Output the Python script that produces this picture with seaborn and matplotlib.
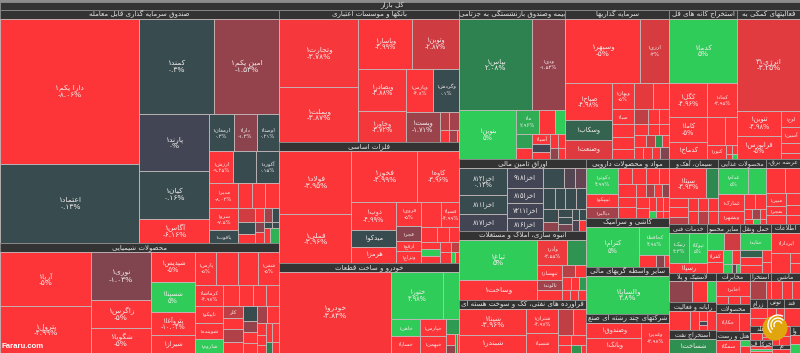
"""Tehran bourse market treemap: sectors tiled into strips, cell area = market cap,
cell colour = daily change (%). Layout comes from the caps and the strip runs."""
import re
from itertools import zip_longest

import numpy as np
import matplotlib
matplotlib.use("Agg")
import matplotlib.pyplot as plt
from matplotlib.patches import Rectangle, Circle, Arc
import seaborn as sns

sns.set_theme(style="white")
plt.rcParams["font.family"] = ["DejaVu Sans"]

TITLE = "کل بازار"
WATERMARK = "Fararu.com"

# runs: c<n> = next n items stacked in a column on the left, r<n> = n items in a row on top
ETF_NAMES = ["دارا یکم۱", "اعتماد۱", "کمند۱", "امین یکم۱", "پارند۱", "کیان۱", "آگاس۱", "ارمغان۱", "دارا۱", "اوصتا۱", "ارزش۱", "", "آکورد۱", "مدیر۱", "سرو۱", "یاقوت۱"]
ETF_CAPS = [20155, 10981, 7104, 6240, 3920, 3360, 1680, 888, 851, 814, 768, 736, 736, 696, 638, 377, 336, 336, 336, 238, 204, 153, 126, 112, 98, 90, 99, 48, 42, 90, 135]
ETF_CHG = [-8.06, 0.13, 0.3, -1.53, 0, 0.16, -6.16, 0.3, -1.3, 0.21, -9.25, 0.1, 0.15, -8.02, -7.5, 0.1, -5, -5, -5, -2.9, 0.1, -5, -5, -2, 0.1, -1.2, -5, 0.1, 0.1, -5, 3]
ETF_RUNS = "c2 r2 c3 r3 r3 c3 r3 c3 r3 c2 r2 c1 c1"

CHEM_NAMES = ["آریا۱", "پترول۱", "نوری۱", "زاگرس۱", "شگویا۱", "شپدیس۱", "شسپنا۱", "پتروآغا۱", "شیراز۱", "پارس۱", "", "", "شفن۱", "کرماشا۱", "تاپیکو۱", "شوینده۱", "شاروم۱", "", "", "", "", "کلر"]
CHEM_CAPS = [4860, 4140, 2880, 1620, 1500, 1290, 1290, 946, 774, 704, 704, 640, 704, 588, 476, 448, 392, 320, 280, 280, 260, 228, 228, 247, 209, 195, 156, 143, 130, 180, 195, 104, 88, 72, 120, 135, 64, 80]
CHEM_CHG = [-5, -4.99, -1.03, -5, -5, -5, 5, -10.02, -6, -5, -5, -5, -5, -4.98, -4.97, -5, 5, -5, -5, -5, -5, -2.6, -5, -2.3, -5, 0.1, -1.5, -5, -5, -2, -5, -5, -5, -5, -5, -5, 2, -5]
CHEM_RUNS = "c2 c3 c4 r4 c4 r4 c4 c4 r2 c3 r2 c1 r2"

BANK_NAMES = ["وتجارت۱", "وبملت۱", "وپاسار۱", "وتوبن۱", "وبصادر۱", "وخاور۱", "وپارس۱", "وگردش۱", "ویست۱"]
BANK_CAPS = [5372, 4266, 2646, 2303, 1974, 1457, 1176, 1092, 1020, 180, 180, 110, 90, 20]
BANK_CHG = [-3.78, -3.87, -4.99, -2.87, -3.88, -3.72, -4.8, 0.1, -1.71, -2.2, -2, -5, -2, -5]
BANK_RUNS = "c2 r2 c2 r2 c1 r2 c1 r2"

METAL_NAMES = ["فولاد۱", "فملی۱", "فخوز۱", "کاوه۱", "ذوب۱", "میدکو۱", "هرمز۱", "فروی۱", "فجر۱", "ارفع۱", "ونزاع۱", "", "فسپا۱"]
METAL_CAPS = [4536, 3528, 3366, 2142, 1232, 748, 704, 600, 375, 250, 300, 480, 456, 225, 180, 150, 126, 144, 126, 110, 90, 110, 50, 40]
METAL_CHG = [-3.95, -3.96, -4.99, -3.96, -4.99, 0.1, -5, -5, -1.2, -5, -5, -5, -4.99, -5, -5, -5, -5, 5, -5, -5, -2.6, -5, 5, -5]
METAL_RUNS = "c2 r2 c3 c4 r2 r3 c3 r2 c1 r2"

AUTO_NAMES = ["خودرو۱", "ختور۱", "", "خاهن۱", "خساپا۱", "خپارس۱", "خبهمن۱"]
AUTO_CAPS = [8991, 2491, 752, 493, 493, 425, 425, 195, 100, 70, 40, 40]
AUTO_CHG = [-3.84, 3.98, 4, 4.9, -5, -5, -5, 2.5, -5, -1.5, 2.5, -5]
AUTO_RUNS = "c1 r2 c2 c2 r1 c2 r2"

INS_NAMES = ["بپاس۱", "ودی۱", "بنوین۱", "ما۱", "", "", "", "", "آسیا۱"]
INS_CAPS = [6643, 3003, 2793, 552, 384, 240, 224, 176, 180, 144, 126, 112, 98, 90, 75]
INS_CHG = [2.08, -1.53, 5, 2.96, -5, 5, 2.6, -5, -5, 0, -5, -5, -5, -1.5, -5]
INS_RUNS = "r2 c1 r3 c2 c3 r2 r2"

INV_NAMES = ["وسپهر۱", "ارزی۱", "صباح۱", "وسکاب۱", "وصنعت۱", "وبهان۱", "صبا۱"]
INV_CAPS = [4800, 1856, 1739, 940, 893, 572, 330, 286, 264, 220, 494, 416, 210, 165, 150, 154, 121, 110, 144, 108, 84, 84, 108, 108, 108, 108]
INV_CHG = [-5, -3, -4.98, 1.1, -3.19, -5, -5, -5, -5, -5, -3.3, -5, -2.6, -5, -5, -5, -5, -5, -5, -2.7, 2.4, -5, -5, -5, -5, -1]
INV_RUNS = "r2 c3 c5 r2 r3 r3 r4 r4"

ORE_NAMES = ["کدما۱", "کگل۱", "کاما۱", "کدماخ۱", "کچاد۱", "", "", "کنور۱"]
ORE_CAPS = [4352, 1292, 950, 646, 1020, 504, 336, 266, 45, 45, 30, 30]
ORE_CHG = [5, -4.96, -5, -10, -3.95, -5, -5, -5, -5, -5, -5, 4]
ORE_RUNS = "r1 c3 r1 r2 c1 r2 r2"

SUP_NAMES = ["انرژی۳۱", "تنوین۱", "فرابورس۱", "اوج۱", "آسین۱"]
SUP_CAPS = [5704, 1075, 989, 304, 304, 190, 114]
SUP_CHG = [-3.25, -4.98, -5, -5, -5, -5, -5]
SUP_RUNS = "r1 c2 c4"

BOND_NAMES = ["اخزا۸۱۲", "اخزا۸۱۱", "اخزا۸۱۷", "اخزا۹۱۸", "اخزا۸۱۵", "اخزا۷۲۱۱", "اخزا۸۱۶"]
BOND_CAPS = [1296, 912, 816, 700, 525, 525, 455, 420, 230, 230, 240, 220, 220, 200, 195, 135, 120, 105, 105, 77, 77, 77, 77]
BOND_CHG = [0.14, 0.11, 0, 0, 0, 0, 0, 0.2, -0.2, -0.4, 0.2, 0.5, 0.2, 0.2, 0.2, -1.4, 0.2, 0.2, -0.6, 0.2, 0.2, -0.1, -5]
BOND_RUNS = "c3 c4 r3 r4 c2 c3 r2 r2"

BUILD_NAMES = ["ثباغ۱", "وساخت۱", "وآذر۱", "", "ثبهساز۱", "ثالوند۱"]
BUILD_CAPS = [3080, 1540, 775, 475, 375, 250, 250, 143, 132, 117, 104, 104, 80, 80, 80]
BUILD_CHG = [5, -4.97, -3.55, 2.4, -5, -2, -5, -2.5, -5, -5, -5, 2.5, -5, -5, -5]
BUILD_RUNS = "c2 r2 c3 r2 r3 r3"

PETRO_NAMES = ["شپنا۱", "شبندر۱", "شتران۱", "شسپا۱"]
PETRO_CAPS = [1742, 1206, 768, 640, 390, 338, 130, 104, 150, 80, 40]
PETRO_CHG = [-3.96, -5, -4.97, -4.99, -2.6, -5, -5, -5, -5, 2.4, -5]
PETRO_RUNS = "c2 c2 r2 c2 r1 r2"

PHARMA_NAMES = ["دکوثر۱", "تیپیکو۱", "دبالبر۱"]
PHARMA_CAPS = [780, 390, 330, 208, 208, 192, 156, 208, 160, 176, 121, 99, 88, 88, 144, 120, 88, 88, 88, 48, 48, 48]
PHARMA_CHG = [4.99, -5, -2, -5, -5, -5, -5, -5, -5, -5, -5, -2.2, -5, -1.5, -5, -5, -5, -5, -5, 4, -5, -5]
PHARMA_RUNS = "c3 r4 c3 r4 c2 r3 r3"

CERAMIC_NAMES = ["کترام۱", "کحافظ۱"]
CERAMIC_CAPS = [2173, 870, 204, 96, 60]
CERAMIC_CHG = [5, 4.98, -5, -1.3, -5]
CERAMIC_RUNS = "c1 r1 r3"

BROKER_NAMES = ["والساپا۱"]
BROKER_CAPS = [3100]
BROKER_CHG = [4.8]
BROKER_RUNS = "c1"

MULTI_NAMES = ["وصندوق۱", "وبانک۱", "وغدیر۱"]
MULTI_CAPS = [880, 825, 868]
MULTI_CHG = [-5, -5, -3.98]
MULTI_RUNS = "c2 c1"

CEMENT_NAMES = ["سیتا۱"]
CEMENT_CAPS = [1110, 360, 162, 180, 126, 130, 130, 130, 130, 130, 130]
CEMENT_CHG = [-3.93, 2.2, -5, -5, -2.4, -5, -5, -5, -5, -2.5, -5]
CEMENT_RUNS = "r2 c3 r3 r3"

FOOD_NAMES = ["غدام۱", "", "غمارک۱", "وبشهر۱"]
FOOD_CAPS = [750, 450, 391, 322, 156, 144, 81, 72, 63, 50, 40, 30]
FOOD_CHG = [5, 5, -5, -5, -5, -5, -5, -2, -5, -5, 4, -5]
FOOD_RUNS = "r2 c2 r2 r3 r3"

POWER_NAMES = ["", "", "مبین۱", "بفجر۱"]
POWER_CAPS = [475, 375, 240, 180, 180, 168, 140, 126]
POWER_CHG = [-5, -5, -5, -5, -5, -5, -5, -5]
POWER_RUNS = "r2 c3 c3"

TECH_NAMES = ["رنیک۱", "تپوکا۱", "رسپا۱"]
TECH_CAPS = [589, 527, 360]
TECH_CHG = [3.3, 5, -5]
TECH_RUNS = "r2 c1"

OTHER_NAMES = ["", "", "کفرا۱"]
OTHER_CAPS = [306, 288, 192, 176, 126, 112, 81, 36, 36]
OTHER_CHG = [5, -2.9, -5, -5, 5, -5, 4, -0.3, 4]
OTHER_RUNS = "r2 c2 r2 r3"

TRANS_NAMES = ["حتاید۱"]
TRANS_CAPS = [510, 147, 168, 168, 108, 99]
TRANS_CHG = [5, 1, -5, -5, -5, -5]
TRANS_RUNS = "r1 c3 c2"

INFO_NAMES = ["ایردارا۱"]
INFO_CAPS = [609, 380, 100, 100]
INFO_CHG = [-5, -5, -5, -5]
INFO_RUNS = "r1 c1 c2"

RUBBER_CAPS = [462, 294, 189]
RUBBER_CHG = [-1.4, -5, 5]
IT_CAPS = [380, 171, 80, 32, 40, 171]
IT_CHG = [-5, -5, -5, 0, -5, -5]
IT_RUNS = "c1 c1 c3 c1"
OILX_NAMES = ["شساخت۱"]
OILX_CAPS = [705]
OILX_CHG = [2.3]
TEL_NAMES = ["اخابر۱"]
TEL_CAPS = [510, 96, 96, 80]
TEL_CHG = [-5, -5, -5, -5]
TEL_RUNS = "r1 r3"
PROD_NAMES = ["چکاپا۱"]
PROD_CAPS = [437, 209]
PROD_CHG = [-3.87, -5]
HOTEL_NAMES = ["سمگا۱"]
HOTEL_CAPS = [336, 70, 70]
HOTEL_CHG = [-5, 4, -5]
HOTEL_RUNS = "c1 c2"
MINE_CAPS = [272, 85]
MINE_CHG = [-2.2, -5]
MACH_CAPS = [200, 170, 150]
MACH_CHG = [-5, -5, -5]
FARM_CAPS = [180, 126]
FARM_CHG = [-5, -5]
TOTI_CAPS = [160, 146]
TOTI_CHG = [-5, -5]
QAND_CAPS = [288]
QAND_CHG = [-5]
MISC_CAPS = [180, 90, 60]
MISC_CHG = [-5, -5, -5]
KHAR_CAPS = [60, 60, 60]
KHAR_CHG = [-5, 4, -5]
HID_CAPS = [130, 100, 90]
HID_CHG = [-5, -5, -5]
MIM_CAPS = [60]
MIM_CHG = [-5]
VA_CAPS = [100, 90]
VA_CHG = [-5, 4]

SECTOR_NAMES = [
    "صندوق سرمایه گذاری قابل معامله", "محصولات شیمیایی", "بانکها و موسسات اعتباری", "فلزات اساسی",
    "خودرو و ساخت قطعات", "بیمه وصندوق بازنشستگی به جزتامی", "سرمایه گذاریها", "استخراج کانه های فل",
    "فعالیتهای کمکی به", "اوراق تامین مالی", "انبوه سازی، املاک و مستغلات",
    "فراورده های نفتی، کک و سوخت هسته ای", "مواد و محصولات دارویی", "کاشی و سرامیک",
    "سایر واسطه گریهای مالی", "شرکتهای چند رشته ای صنع", "سیمان، آهک و", "محصولات غذایی", "عرضه برق،",
    "خدمات فنی", "سایر محصو", "حمل ونقل", "اطلاعات", "لاستیک و پلا", "رایانه و فعالیت", "استخراج نفت",
    "مخابرات", "محصولات", "هتل و رست", "استخرا", "ماشین", "زراع", "توتی", "قند", "هلد", "خرکا ف", "", "م", "وا",
]
SECTOR_CAPS = [65007, 30690, 23760, 21780, 16200, 15794, 15496, 10132, 9387, 9144, 8763, 6731, 4897, 4067, 3901,
               3237, 3185, 3120, 2210, 1813, 1617, 1470, 1421, 1363, 1316, 1081, 1054, 918, 748, 546, 754, 459, 459,
               432, 308, 286, 342, 144, 270]
SECTOR_RUNS = "c2 c3 r4 c3 c4 r3 r4 c3 c3 r2 r3 c2 c2 c1"

# one row per sector, same order as SECTOR_NAMES
SECTOR_CELLS = [
    (ETF_NAMES, ETF_CAPS, ETF_CHG, ETF_RUNS), (CHEM_NAMES, CHEM_CAPS, CHEM_CHG, CHEM_RUNS),
    (BANK_NAMES, BANK_CAPS, BANK_CHG, BANK_RUNS), (METAL_NAMES, METAL_CAPS, METAL_CHG, METAL_RUNS),
    (AUTO_NAMES, AUTO_CAPS, AUTO_CHG, AUTO_RUNS), (INS_NAMES, INS_CAPS, INS_CHG, INS_RUNS),
    (INV_NAMES, INV_CAPS, INV_CHG, INV_RUNS), (ORE_NAMES, ORE_CAPS, ORE_CHG, ORE_RUNS),
    (SUP_NAMES, SUP_CAPS, SUP_CHG, SUP_RUNS), (BOND_NAMES, BOND_CAPS, BOND_CHG, BOND_RUNS),
    (BUILD_NAMES, BUILD_CAPS, BUILD_CHG, BUILD_RUNS), (PETRO_NAMES, PETRO_CAPS, PETRO_CHG, PETRO_RUNS),
    (PHARMA_NAMES, PHARMA_CAPS, PHARMA_CHG, PHARMA_RUNS), (CERAMIC_NAMES, CERAMIC_CAPS, CERAMIC_CHG, CERAMIC_RUNS),
    (BROKER_NAMES, BROKER_CAPS, BROKER_CHG, BROKER_RUNS), (MULTI_NAMES, MULTI_CAPS, MULTI_CHG, MULTI_RUNS),
    (CEMENT_NAMES, CEMENT_CAPS, CEMENT_CHG, CEMENT_RUNS), (FOOD_NAMES, FOOD_CAPS, FOOD_CHG, FOOD_RUNS),
    (POWER_NAMES, POWER_CAPS, POWER_CHG, POWER_RUNS), (TECH_NAMES, TECH_CAPS, TECH_CHG, TECH_RUNS),
    (OTHER_NAMES, OTHER_CAPS, OTHER_CHG, OTHER_RUNS), (TRANS_NAMES, TRANS_CAPS, TRANS_CHG, TRANS_RUNS),
    (INFO_NAMES, INFO_CAPS, INFO_CHG, INFO_RUNS), ([], RUBBER_CAPS, RUBBER_CHG, "c1 c1 c1"),
    ([], IT_CAPS, IT_CHG, IT_RUNS), (OILX_NAMES, OILX_CAPS, OILX_CHG, "c1"), (TEL_NAMES, TEL_CAPS, TEL_CHG, TEL_RUNS),
    (PROD_NAMES, PROD_CAPS, PROD_CHG, "c1 c1"), (HOTEL_NAMES, HOTEL_CAPS, HOTEL_CHG, HOTEL_RUNS),
    ([], MINE_CAPS, MINE_CHG, "c1 c1"), ([], MACH_CAPS, MACH_CHG, "c1 c1 c1"), ([], FARM_CAPS, FARM_CHG, "r1 r1"),
    ([], TOTI_CAPS, TOTI_CHG, "c1 c1"), ([], QAND_CAPS, QAND_CHG, "c1"), ([], MISC_CAPS, MISC_CHG, "c1 c2"),
    ([], KHAR_CAPS, KHAR_CHG, "c3"), ([], HID_CAPS, HID_CHG, "c1 c2"), ([], MIM_CAPS, MIM_CHG, "c1"),
    ([], VA_CAPS, VA_CHG, "r1 r1"),
]

# change -4 ... +4 in half steps, anything beyond is clipped
CHANGE_COLOURS = ["#fd3539", "#ec393d", "#d63b40", "#b94046", "#a3424a", "#93434c", "#80454f", "#6e4550", "#414554",
                  "#384a4f", "#35604f", "#317050", "#2e7d4f", "#2f9a52", "#2fb055", "#30c058", "#30cc5a"]
change_cmap = sns.blend_palette(CHANGE_COLOURS, n_colors=256, as_cmap=True)

FOUR_FORM = {"ب": 0xFE8F, "پ": 0xFB56, "ت": 0xFE95, "ث": 0xFE99, "ج": 0xFE9D, "چ": 0xFB7A, "ح": 0xFEA1, "خ": 0xFEA5,
             "س": 0xFEB1, "ش": 0xFEB5, "ص": 0xFEB9, "ض": 0xFEBD, "ط": 0xFEC1, "ظ": 0xFEC5, "ع": 0xFEC9, "غ": 0xFECD,
             "ف": 0xFED1, "ق": 0xFED5, "ک": 0xFB8E, "گ": 0xFB92, "ل": 0xFEDD, "م": 0xFEE1, "ن": 0xFEE5, "ه": 0xFEE9,
             "ی": 0xFBFC}
TWO_FORM = {"ا": 0xFE8D, "آ": 0xFE81, "د": 0xFEA9, "ذ": 0xFEAB, "ر": 0xFEAD, "ز": 0xFEAF, "ژ": 0xFB8A, "و": 0xFEED,
            "\uFEFB": 0xFEFB}


def rtl(text):
    # matplotlib does no Arabic shaping or bidi, so do both here
    text = text.replace("لا", "\uFEFB")
    out = []
    for i, ch in enumerate(text):
        prev = text[i - 1] if i else ""
        nxt = text[i + 1] if i + 1 < len(text) else ""
        joins_prev = prev in FOUR_FORM
        if ch in FOUR_FORM:
            joins_next = nxt in FOUR_FORM or nxt in TWO_FORM
            form = (1 if joins_prev else 0) if not joins_next else (3 if joins_prev else 2)
            out.append(chr(FOUR_FORM[ch] + form))
        elif ch in TWO_FORM:
            out.append(chr(TWO_FORM[ch] + (1 if joins_prev else 0)))
        else:
            out.append(ch)
    parts = re.findall(r"[۰-۹]+|[^۰-۹]", "".join(out))
    return "".join(reversed(parts))


def pct_text(chg):
    num = f"{abs(chg):.2f}".rstrip("0").rstrip(".")
    num = num.translate(str.maketrans("0123456789", "۰۱۲۳۴۵۶۷۸۹"))
    return ("-" if chg < 0 else "") + num + "%"


def tile(rect, caps, runs):
    x, y, w, h = rect
    caps = np.asarray(caps, dtype=float)
    out = []
    i = 0
    tokens = runs.split()
    for tok in tokens:
        group = caps[i:i + int(tok[1:])]
        if len(group) == 0:
            break
        share = group.sum() / caps[i:].sum()
        if tok[0] == "c":
            cw = w * share
            yy = y
            for v in group:
                ch = h * v / group.sum()
                out.append((x, yy, cw, ch))
                yy += ch
            x += cw
            w -= cw
        else:
            rh = h * share
            xx = x
            for v in group:
                rw = w * v / group.sum()
                out.append((xx, y, rw, rh))
                xx += rw
            y += rh
            h -= rh
        i += len(group)
    return out


def draw_cell(ax, box, name, chg):
    x, y, w, h = box
    # tiny gains already read as the teal tone in the source
    shade = 0.5 if 0 < chg < 0.5 else np.clip(chg, -4, 4)
    colour = change_cmap((shade + 4) / 8)
    ax.add_patch(Rectangle((x, y), w, h, facecolor=colour, edgecolor="#c4b9b9", linewidth=0.6))
    if not name:
        return
    size = 5.4 if w > 60 else (4.8 if w > 34 else 3.9)
    cx, cy = x + w / 2, y + h / 2
    if h >= 20.5:
        ax.text(cx, cy - 3.2, rtl(name), color="#f2eded", fontsize=size, ha="center", va="center")
        ax.text(cx, cy + 3.6, pct_text(chg), color="#f2eded", fontsize=size, ha="center", va="center")
    else:
        ax.text(cx, cy, rtl(name), color="#f2eded", fontsize=size, ha="center", va="center")


def main():
    fig = plt.figure(figsize=(8, 3.53), dpi=100, facecolor="#8c8c8c")
    ax = fig.add_axes([0, 0, 1, 1])
    ax.set_xlim(0, 800)
    ax.set_ylim(353, 0)
    ax.axis("off")

    # top bar
    ax.add_patch(Rectangle((0, 1.5), 800, 8, facecolor="#333333", edgecolor="#8c8c8c", linewidth=0.6))
    ax.text(392, 5.5, rtl(TITLE), color="#e6e6e6", fontsize=5, ha="center", va="center")

    boxes = tile((0, 10, 800, 343), SECTOR_CAPS, SECTOR_RUNS)
    for box, header, (names, caps, chg, runs) in zip(boxes, SECTOR_NAMES, SECTOR_CELLS):
        x, y, w, h = box
        head = min(8.7, h * 0.5) if header else 0
        if head:
            bar = Rectangle((x, y), w, head, facecolor="#333333", edgecolor="#8c8c8c", linewidth=0.6)
            ax.add_patch(bar)
            ax.text(x + w / 2, y + head / 2, rtl(header), color="#e6e6e6", fontsize=5 if w > 60 else 4.5,
                    ha="center", va="center", clip_path=bar, clip_on=True)
        cells = tile((x, y + head, w, h - head), caps, runs)
        for cell, name, value in zip_longest(cells, names, chg, fillvalue=""):
            if cell == "" or value == "":
                continue
            draw_cell(ax, cell, name, value)

    # watermark and logo
    ax.text(1, 347, WATERMARK, color="white", fontsize=5.6, fontweight="bold", family="Liberation Sans",
            ha="left", va="center")
    ax.add_patch(Circle((775, 328), 12.5, facecolor="#e1a60e", edgecolor="none", zorder=5))
    for r, t1, t2 in [(10, 130, 300), (7, 140, 320), (4, 150, 340)]:
        ax.add_patch(Arc((778, 325), 2 * r, 2 * r, theta1=t1, theta2=t2, color="white", linewidth=1.0, zorder=6))

    fig.savefig("out.png", dpi=100, facecolor=fig.get_facecolor())


if __name__ == "__main__":
    main()
